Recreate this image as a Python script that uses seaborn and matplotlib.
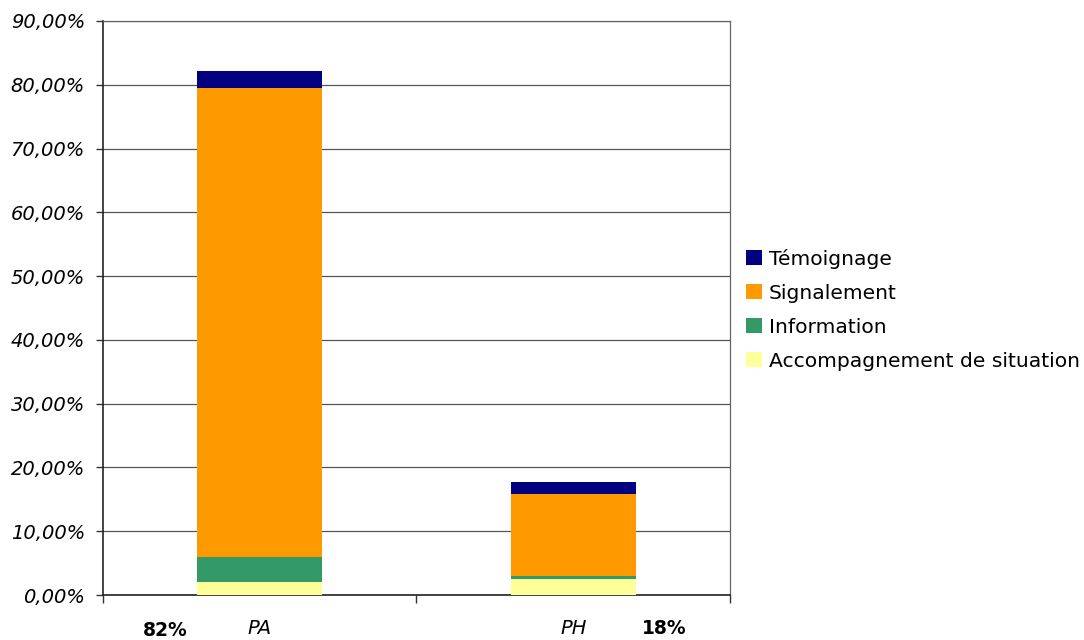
import matplotlib
matplotlib.use("Agg")
import numpy as np
import pandas as pd
import seaborn as sns
from matplotlib import pyplot as plt
from matplotlib.patches import Patch
from matplotlib.ticker import FuncFormatter, MultipleLocator

categories = ["PA", "PH"]
shares = ["82%", "18%"]
series = ["Accompagnement de situation", "Information", "Signalement", "Témoignage"]
colors = ["#FFFF99", "#339966", "#FF9900", "#000080"]
accompagnement = [2.0, 2.5]
information = [4.0, 0.5]
signalement = [73.5, 12.8]
temoignage = [2.6, 1.9]

values = np.array([accompagnement, information, signalement, temoignage])
tops = values.cumsum(axis=0)
df = pd.DataFrame(
    [(c, s, tops[i, j]) for i, s in enumerate(series) for j, c in enumerate(categories)],
    columns=["cat", "serie", "top"],
)

sns.set_style("white")
plt.rcParams["font.family"] = ["DejaVu Sans"]
plt.rcParams["text.color"] = "black"
plt.rcParams["ytick.color"] = "black"

fig = plt.figure(figsize=(10.84, 6.4), dpi=100)
ax = fig.add_axes([0.095, 0.0703, 0.5784, 0.8969])

# stacked bars: draw cumulative tops from the highest layer down
for s, col in reversed(list(zip(series, colors))):
    sns.barplot(data=df[df["serie"] == s], x="cat", y="top", color=col,
                width=0.4, saturation=1, order=categories, ax=ax, zorder=3,
                linewidth=0, edgecolor="none")

ax.set_ylim(0, 90)
ax.set_xlim(-0.5, 1.5)
ax.yaxis.set_major_locator(MultipleLocator(10))
ax.yaxis.set_major_formatter(FuncFormatter(lambda v, p: f"{v:.2f}%".replace(".", ",")))
ax.grid(axis="y", color="#555555", lw=0.9, zorder=0)
ax.set_axisbelow(True)
ax.set_xticks([-0.5, 0.5, 1.5])
ax.set_xticklabels([])
ax.tick_params(axis="y", direction="out", length=5, width=1, color="#333333",
               labelsize=14, pad=8, left=True)
ax.tick_params(axis="x", direction="out", length=6, width=1, color="#333333", bottom=True)
for lab in ax.get_yticklabels():
    lab.set_fontstyle("italic")
ax.set_xlabel("")
ax.set_ylabel("")
for side in ["left", "bottom"]:
    ax.spines[side].set_color("#222222")
    ax.spines[side].set_linewidth(1.2)
for side in ["right", "top"]:
    ax.spines[side].set_color("#666666")
    ax.spines[side].set_linewidth(0.9)

# category labels and shares under the axis
for j, c in enumerate(categories):
    ax.text(j, -5.2, c, ha="center", va="center", fontsize=14, fontstyle="italic")
ax.text(-0.30, -5.5, shares[0], ha="center", va="center", fontsize=13.5, fontweight="bold")
ax.text(1.29, -5.3, shares[1], ha="center", va="center", fontsize=13.5, fontweight="bold")

handles = [Patch(facecolor=c, edgecolor="none", label=s) for s, c in zip(series, colors)]
fig.legend(handles=handles[::-1], loc="center left", bbox_to_anchor=(0.688, 0.516),
           frameon=False, fontsize=14.6, handlelength=0.8, handleheight=0.8,
           handletextpad=0.35, labelspacing=0.74, borderaxespad=0, borderpad=0)

fig.savefig("out.png", dpi=100)
